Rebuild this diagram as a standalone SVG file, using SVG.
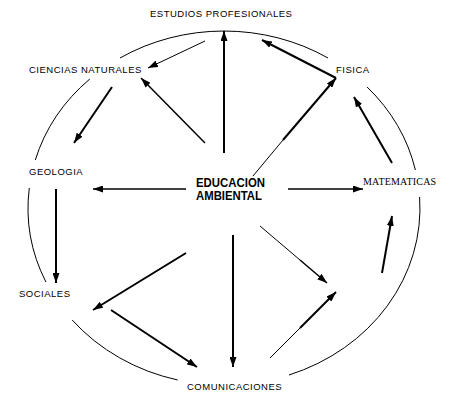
<svg xmlns="http://www.w3.org/2000/svg" width="454" height="401" viewBox="0 0 454 401">
<style>
.lbl{font-family:"Liberation Sans",Arial,sans-serif;font-size:9.5px;letter-spacing:0.5px;fill:#000}
.ser{font-family:"Liberation Serif","Times New Roman",serif;font-size:10px;letter-spacing:0.2px;fill:#000}
.ctr{font-family:"Liberation Sans",Arial,sans-serif;font-size:12.5px;font-weight:bold;fill:#000}
.arc{fill:none;stroke:#000;stroke-width:1}
.thick{stroke:#000;stroke-width:2;fill:none}
.mid{stroke:#000;stroke-width:1.5;fill:none}
.thin{stroke:#000;stroke-width:1;fill:none}
</style>
<defs>
<marker id="ah" viewBox="0 0 10 7" refX="10" refY="3.5" markerWidth="10" markerHeight="7" markerUnits="userSpaceOnUse" orient="auto">
<path d="M0,0 L10,3.5 L0,7 z" fill="#000"/>
</marker>
</defs>
<rect width="454" height="401" fill="#fff"/>
<g id="arcs">
<path class="arc" d="M35.3,160 A196,177 0 0 1 89.8,79"/>
<path class="arc" d="M120,58 A196,177 0 0 1 328,58"/>
<path class="arc" d="M367.1,87 A196,177 0 0 1 415.4,170"/>
<path class="arc" d="M419.6,197 A196,177 0 0 1 289,375"/>
<path class="arc" d="M177.7,380 A196,177 0 0 1 72.2,320"/>
<path class="arc" d="M45.9,282 A196,177 0 0 1 29.3,188"/>
</g>
<g id="connectors">
<line class="thick" x1="224" y1="153" x2="224" y2="31" marker-end="url(#ah)"/>
<line class="mid" x1="205" y1="143" x2="141" y2="78" marker-end="url(#ah)"/>
<line class="thin" x1="205" y1="41" x2="148" y2="68" marker-end="url(#ah)"/>
<line class="thick" x1="336" y1="78" x2="262" y2="40" marker-end="url(#ah)"/>
<line class="thin" x1="253" y1="176" x2="283" y2="140"/>
<line class="thick" x1="283" y1="140" x2="336" y2="78" marker-end="url(#ah)"/>
<line class="thick" x1="392" y1="163" x2="354" y2="97" marker-end="url(#ah)"/>
<line class="thick" x1="112" y1="87" x2="74" y2="143" marker-end="url(#ah)"/>
<line class="mid" x1="186" y1="189" x2="93" y2="189" marker-end="url(#ah)"/>
<line class="mid" x1="288" y1="189" x2="363" y2="189" marker-end="url(#ah)"/>
<line class="thick" x1="56" y1="189" x2="56" y2="283" marker-end="url(#ah)"/>
<line class="thick" x1="186" y1="253" x2="93" y2="310" marker-end="url(#ah)"/>
<line class="thick" x1="111" y1="310" x2="197" y2="367" marker-end="url(#ah)"/>
<line class="thick" x1="233" y1="235" x2="233" y2="367" marker-end="url(#ah)"/>
<line class="thin" x1="260" y1="226" x2="300" y2="260"/>
<line class="mid" x1="300" y1="260" x2="327" y2="283" marker-end="url(#ah)"/>
<line class="thin" x1="270" y1="358" x2="300" y2="328"/>
<line class="thick" x1="300" y1="328" x2="336" y2="292" marker-end="url(#ah)"/>
<line class="thick" x1="382" y1="273" x2="392" y2="216" marker-end="url(#ah)"/>
</g>
<g id="estudios"><text class="lbl" x="150" y="17">ESTUDIOS PROFESIONALES</text></g>
<g id="ciencias"><text class="lbl" x="29" y="73">CIENCIAS NATURALES</text></g>
<g id="fisica"><text class="lbl" x="336" y="73">FISICA</text></g>
<g id="geologia"><text class="lbl" x="29" y="175">GEOLOGIA</text></g>
<g id="matematicas"><text class="ser" x="363" y="185">MATEMATICAS</text></g>
<g id="sociales"><text class="lbl" x="19" y="297">SOCIALES</text></g>
<g id="comunicaciones"><text class="lbl" x="187" y="390">COMUNICACIONES</text></g>
<g id="educacion">
<text class="ctr" x="196" y="187" textLength="69" lengthAdjust="spacingAndGlyphs">EDUCACION</text>
<text class="ctr" x="196" y="200" textLength="66" lengthAdjust="spacingAndGlyphs">AMBIENTAL</text>
</g>
</svg>
